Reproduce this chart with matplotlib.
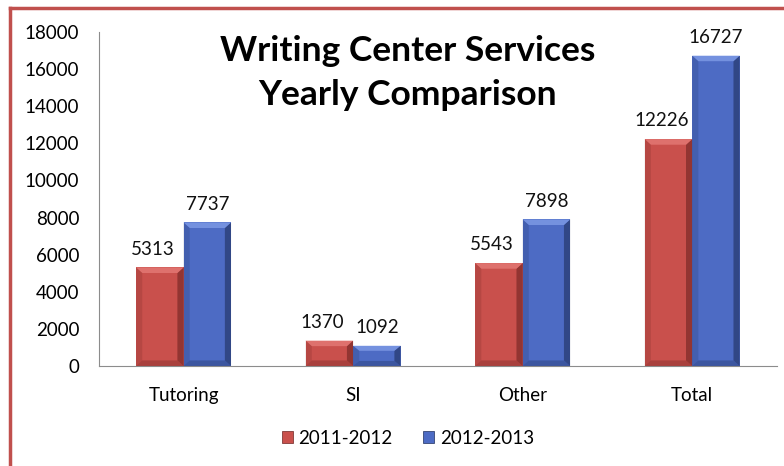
import matplotlib
matplotlib.use("Agg")
import matplotlib.pyplot as plt
import numpy as np
from matplotlib.patches import Rectangle, Polygon
from matplotlib.lines import Line2D

categories = ["Tutoring", "SI", "Other", "Total"]
series_names = ["2011-2012", "2012-2013"]
values_2011 = [5313, 1370, 5543, 12226]
values_2012 = [7737, 1092, 7898, 16727]
yticks = [0, 2000, 4000, 6000, 8000, 10000, 12000, 14000, 16000, 18000]

plt.rcParams['font.family'] = ['Lato', 'DejaVu Sans']

fig = plt.figure(figsize=(7.84, 4.66), dpi=100)
ax = fig.add_axes([0.126, 0.2146, 0.865, 0.7167])

x = np.arange(len(categories))
w = 0.28
colors = ["#c9504c", "#4d6bc4"]
dark = ["#6e2322", "#1f2f5e"]
light = ["#e47a76", "#7f9be6"]

def bevel(ax, bars, dk, lt):
    for b in bars:
        x0, y0 = b.get_x(), b.get_y()
        bw, bh = b.get_width(), b.get_height()
        e = bw * 0.13
        ey = min(bh * 0.25, 300)
        ax.add_patch(Polygon([[x0 + bw - e, y0 + ey], [x0 + bw, y0], [x0 + bw, y0 + bh], [x0 + bw - e, y0 + bh - ey]],
                             closed=True, facecolor=dk, alpha=0.6, edgecolor='none', zorder=3))
        ax.add_patch(Polygon([[x0, y0 + bh], [x0 + bw, y0 + bh], [x0 + bw - e, y0 + bh - ey], [x0 + e, y0 + bh - ey]],
                             closed=True, facecolor=lt, alpha=0.8, edgecolor='none', zorder=3))
        ax.add_patch(Polygon([[x0, y0], [x0 + bw, y0], [x0 + bw - e, y0 + ey], [x0 + e, y0 + ey]],
                             closed=True, facecolor=dk, alpha=0.35, edgecolor='none', zorder=3))
        ax.add_patch(Polygon([[x0, y0], [x0 + e, y0 + ey], [x0 + e, y0 + bh - ey], [x0, y0 + bh]],
                             closed=True, facecolor=dk, alpha=0.2, edgecolor='none', zorder=3))

b1 = ax.bar(x - w / 2, values_2011, w, color=colors[0], zorder=2, edgecolor='none')
b2 = ax.bar(x + w / 2, values_2012, w, color=colors[1], zorder=2, edgecolor='none')
bevel(ax, b1, dark[0], light[0])
bevel(ax, b2, dark[1], light[1])

fs = 13.5
for bars, vals, dx in ((b1, values_2011, -5), (b2, values_2012, 0)):
    for b, v in zip(bars, vals):
        ax.annotate(str(v), (b.get_x() + b.get_width() / 2, v), xytext=(dx, 7),
                    textcoords='offset points', ha='center', va='bottom', fontsize=fs, color='#111111')

ax.set_xlim(-0.5, 3.5)
ax.set_ylim(0, 18000)
ax.set_yticks(yticks)
ax.set_yticklabels([str(t) for t in yticks], fontsize=fs)
ax.set_xticks(x)
ax.set_xticklabels(categories, fontsize=fs)
ax.tick_params(axis='y', length=0, pad=14)
ax.tick_params(axis='x', length=0, pad=15)
for s in ['top', 'right']:
    ax.spines[s].set_visible(False)
ax.spines['left'].set_color('#8c8c8c')
ax.spines['bottom'].set_color('#8c8c8c')

fig.text(0.52, 0.843, "Writing Center Services\nYearly Comparison", ha='center', va='center',
         fontsize=25.5, fontweight='bold', linespacing=1.45, color='black')

handles = [Rectangle((0, 0), 1, 1, facecolor=colors[0], edgecolor=dark[0], linewidth=0.5),
           Rectangle((0, 0), 1, 1, facecolor=colors[1], edgecolor=dark[1], linewidth=0.5)]
fig.legend(handles, series_names, loc='center', bbox_to_anchor=(0.52, 0.06), ncol=2, frameon=False,
           fontsize=fs, handlelength=0.6, handleheight=0.6, handletextpad=0.3, columnspacing=1.6)

fig.add_artist(Line2D([0.0128, 1.0], [0.983, 0.983], transform=fig.transFigure, color='#c0504d', linewidth=2.5))
fig.add_artist(Line2D([0.0128, 0.0128], [0.983, 0.0], transform=fig.transFigure, color='#c0504d', linewidth=2.5))

fig.savefig("out.png", dpi=100)
